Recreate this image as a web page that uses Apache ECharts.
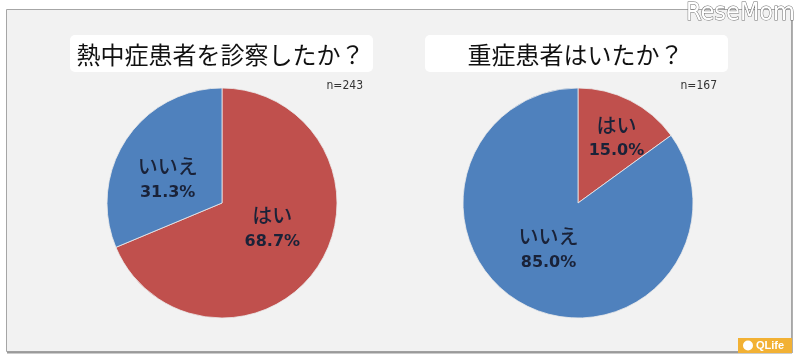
<!DOCTYPE html>
<html>
<head>
<meta charset="utf-8">
<script src="https://cdn.jsdelivr.net/npm/echarts@6/dist/echarts.min.js"></script>
<style>html,body{margin:0;padding:0;background:#fff}#c{width:800px;height:360px}</style>
</head>
<body>
<div id="c"></div>
<script>
// ---- data ----
const categories = ['はい', 'いいえ'];
const titles = ['熱中症患者を診察したか？', '重症患者はいたか？'];
const q1Values = [68.7, 31.3];
const q2Values = [15.0, 85.0];
const sampleSizes = [243, 167];

// ---- layout / style ----
const colors = ['#c0504d', '#4f81bd'];
const pieCenters = [[222, 203], [578, 203]];
const pieRadius = 115;
const labelOffsets = [[[0, -8], [-4, 10]], [[11, -11], [-2, -7]]];
const titleBoxes = [[70, 35, 303, 37], [425, 35, 303, 37]];
const nRight = [363, 717];

const chart = echarts.init(document.getElementById('c'), null, {renderer: 'canvas'});

function makeSeries(values, idx) {
  return {
    type: 'pie',
    center: pieCenters[idx],
    radius: [0, pieRadius],
    startAngle: 90,
    clockwise: true,
    avoidLabelOverlap: false,
    silent: true,
    animation: false,
    itemStyle: {borderColor: 'rgba(235,235,235,0.8)', borderWidth: 1},
    label: {
      show: true,
      position: 'inside',
      formatter: p => '{n|' + p.name + '}\n{p|' + p.value.toFixed(1) + '%}',
      rich: {
        n: {fontFamily: 'Noto Sans CJK JP', fontSize: 20, fontWeight: 500, color: '#1a2238', lineHeight: 26},
        p: {fontFamily: 'DejaVu Sans', fontSize: 16, fontWeight: 'bold', color: '#1a2238', lineHeight: 26}
      }
    },
    labelLine: {show: false},
    data: categories.map((c, i) => ({
      name: c,
      value: values[i],
      itemStyle: {color: colors[i]},
      label: {offset: labelOffsets[idx][i]}
    }))
  };
}

const graphics = [
  {type: 'rect', shape: {x: 6.5, y: 9.5, width: 785, height: 342}, style: {fill: '#f2f2f2', stroke: '#a6a6a6', lineWidth: 1}, z: 0},
  {type: 'line', shape: {x1: 7, y1: 352.5, x2: 792, y2: 352.5}, style: {stroke: '#9a9a9a', lineWidth: 2}, z: 1},
  {type: 'line', shape: {x1: 792.5, y1: 10, x2: 792.5, y2: 353}, style: {stroke: '#b0b0b0', lineWidth: 1}, z: 1}
];
titleBoxes.forEach((b, i) => {
  graphics.push({type: 'rect', shape: {x: b[0], y: b[1], width: b[2], height: b[3], r: 5}, style: {fill: '#ffffff'}, z: 1});
  graphics.push({type: 'text', x: b[0] + b[2] / 2 - 1, y: b[1] + b[3] / 2 + 1, style: {text: titles[i], fill: '#111', font: '24px "Noto Sans CJK JP"', textAlign: 'center', textVerticalAlign: 'middle'}, z: 2});
  graphics.push({type: 'text', x: nRight[i], y: 86, style: {text: 'n=' + sampleSizes[i], fill: '#333', font: '12px "Liberation Sans Narrow", "DejaVu Sans Condensed", sans-serif', textAlign: 'right', textVerticalAlign: 'middle'}, z: 2});
});
// watermark
graphics.push({type: 'text', x: 795, y: 1, style: {text: 'ReseMom', fill: '#ffffff', stroke: '#6f6f6f', lineWidth: 1, font: '25px "Liberation Sans Narrow", "DejaVu Sans Condensed", sans-serif', textAlign: 'right', textVerticalAlign: 'top'}, z: 100});
// QLife logo
graphics.push({type: 'rect', shape: {x: 738, y: 338, width: 54, height: 15}, style: {fill: '#f2b134'}, z: 100});
graphics.push({type: 'circle', shape: {cx: 748, cy: 345.5, r: 5}, style: {fill: '#ffffff'}, z: 101});
graphics.push({type: 'text', x: 756, y: 346, style: {text: 'QLife', fill: '#ffffff', font: 'bold 11px "Liberation Sans", sans-serif', textVerticalAlign: 'middle'}, z: 101});

chart.setOption({
  backgroundColor: '#ffffff',
  animation: false,
  graphic: graphics,
  series: [makeSeries(q1Values, 0), makeSeries(q2Values, 1)]
});
</script>
</body>
</html>
